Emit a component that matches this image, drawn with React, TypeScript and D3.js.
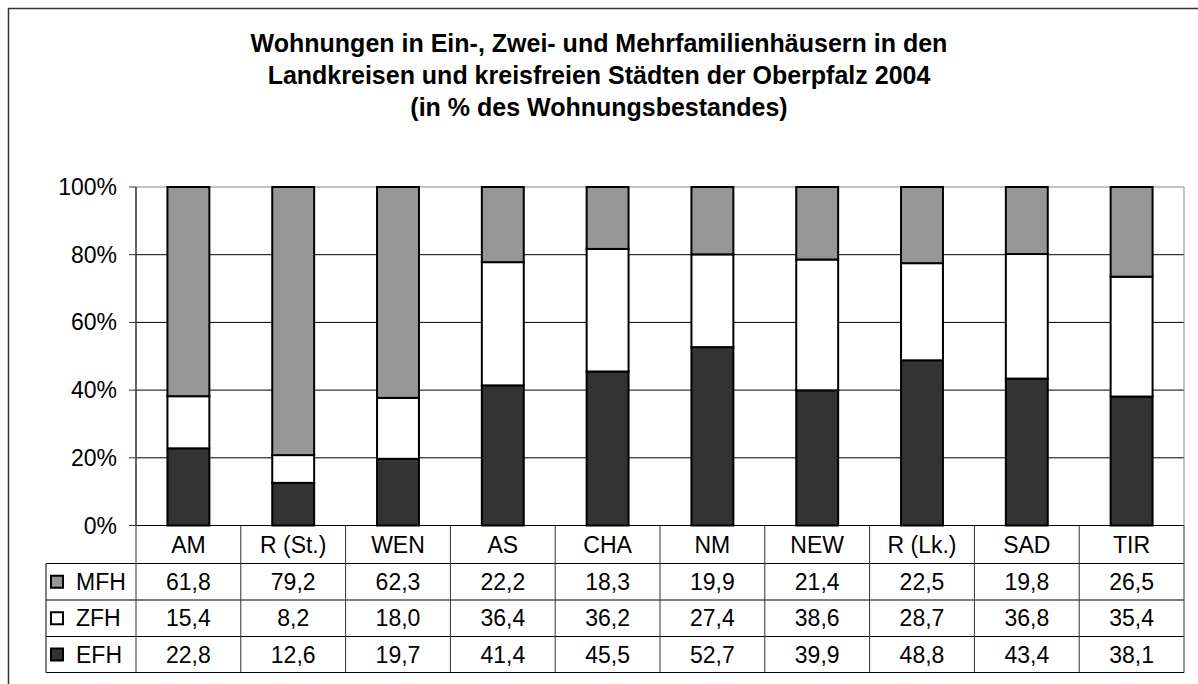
import React from 'react';
import * as d3 from 'd3';

// Oberpfalz 2004: Anteil der Wohnungen nach Gebäudetyp (in %)
const categories = ['AM', 'R (St.)', 'WEN', 'AS', 'CHA', 'NM', 'NEW', 'R (Lk.)', 'SAD', 'TIR'];
const mfh = [61.8, 79.2, 62.3, 22.2, 18.3, 19.9, 21.4, 22.5, 19.8, 26.5];
const zfh = [15.4, 8.2, 18.0, 36.4, 36.2, 27.4, 38.6, 28.7, 36.8, 35.4];
const efh = [22.8, 12.6, 19.7, 41.4, 45.5, 52.7, 39.9, 48.8, 43.4, 38.1];
const seriesNames = ['EFH', 'ZFH', 'MFH'];
const tableOrder = ['MFH', 'ZFH', 'EFH'];
const yTicks = [0, 0.2, 0.4, 0.6, 0.8, 1];
const titleLines = [
  'Wohnungen in Ein-, Zwei- und Mehrfamilienhäusern in den',
  'Landkreisen und kreisfreien Städten der Oberpfalz 2004',
  '(in % des Wohnungsbestandes)',
];

const colors: Record<string, string> = { MFH: '#969696', ZFH: '#ffffff', EFH: '#333333' };
const values: Record<string, number[]> = { MFH: mfh, ZFH: zfh, EFH: efh };

const W = 1198;
const H = 684;
const plot = { left: 136, right: 1184, top: 187, bottom: 525.5 };
const tableLeft = 46;
const rowLines = [525.5, 563.5, 600, 636.5, 672.5];
const font = 'Arial, "Liberation Sans", sans-serif';
const fs = 23;

export default function App() {
  const rows = categories.map((c, i) => ({ cat: c, EFH: efh[i], ZFH: zfh[i], MFH: mfh[i] }));
  const stacked = d3.stack<any>().keys(seriesNames).offset(d3.stackOffsetExpand)(rows);

  const x = d3.scaleBand().domain(categories).range([plot.left, plot.right]).paddingInner(0.6).paddingOuter(0.3);
  const xCell = d3.scaleBand().domain(categories).range([plot.left, plot.right]);
  const y = d3.scaleLinear().domain([0, 1]).range([plot.bottom, plot.top]);
  const pct = d3.format('.0%');
  const num = (v: number) => v.toFixed(1).replace('.', ',');

  return (
    <svg width={W} height={H} style={{ position: 'absolute', left: 0, top: 0, background: '#fff' }} fontFamily={font}>
      <rect x={8.5} y={8.5} width={1300} height={800} fill="#fff" stroke="#333" strokeWidth={1.5} />

      {titleLines.map((t, i) => (
        <text key={i} x={599} y={51.5 + i * 32} textAnchor="middle" fontSize={25} fontWeight="bold" fill="#000">
          {t}
        </text>
      ))}

      {/* Gitternetz */}
      {yTicks.map((t) => (
        <g key={t}>
          <line x1={plot.left} x2={plot.right} y1={y(t)} y2={y(t)} stroke={t === 1 ? '#888' : '#000'} strokeWidth={1} />
          <line x1={plot.left - 7} x2={plot.left} y1={y(t)} y2={y(t)} stroke="#333" />
          <text x={plot.left - 19} y={y(t)} dy="0.35em" textAnchor="end" fontSize={fs} fill="#000">
            {pct(t)}
          </text>
        </g>
      ))}
      <line x1={plot.right} x2={plot.right} y1={plot.top} y2={plot.bottom} stroke="#888" />
      <line x1={plot.left} x2={plot.left} y1={plot.top} y2={plot.bottom} stroke="#333" strokeWidth={1.5} />

      {/* Balken */}
      {stacked.map((s) => (
        <g key={s.key}>
          {s.map((d, i) => (
            <rect
              key={i}
              x={x(categories[i])}
              width={x.bandwidth()}
              y={y(d[1])}
              height={y(d[0]) - y(d[1])}
              fill={colors[s.key]}
              stroke="#000"
              strokeWidth={2}
            />
          ))}
        </g>
      ))}

      {/* Datentabelle */}
      {rowLines.map((ry, i) => (
        <line key={ry} x1={i === 0 ? plot.left : tableLeft} x2={plot.right} y1={ry} y2={ry} stroke="#000" />
      ))}
      <line x1={tableLeft} x2={tableLeft} y1={rowLines[1]} y2={rowLines[4]} stroke="#000" />
      {categories.map((c) => (
        <line key={c} x1={xCell(c)} x2={xCell(c)} y1={rowLines[0]} y2={rowLines[4]} stroke="#333" />
      ))}
      <line x1={plot.right} x2={plot.right} y1={rowLines[0]} y2={rowLines[4]} stroke="#333" />

      {categories.map((c) => (
        <text key={c} x={xCell(c)! + xCell.bandwidth() / 2} y={(rowLines[0] + rowLines[1]) / 2} dy="0.35em" textAnchor="middle" fontSize={fs} fill="#000">
          {c}
        </text>
      ))}

      {tableOrder.map((k, r) => {
        const cy = (rowLines[r + 1] + rowLines[r + 2]) / 2;
        return (
          <g key={k}>
            <rect x={51} y={cy - 6} width={12} height={12} fill={colors[k]} stroke="#000" strokeWidth={2} />
            <text x={76} y={cy} dy="0.35em" fontSize={fs} fill="#000">
              {k}
            </text>
            {values[k].map((v, i) => (
              <text key={i} x={xCell(categories[i])! + xCell.bandwidth() / 2} y={cy} dy="0.35em" textAnchor="middle" fontSize={fs} fill="#000">
                {num(v)}
              </text>
            ))}
          </g>
        );
      })}
    </svg>
  );
}
